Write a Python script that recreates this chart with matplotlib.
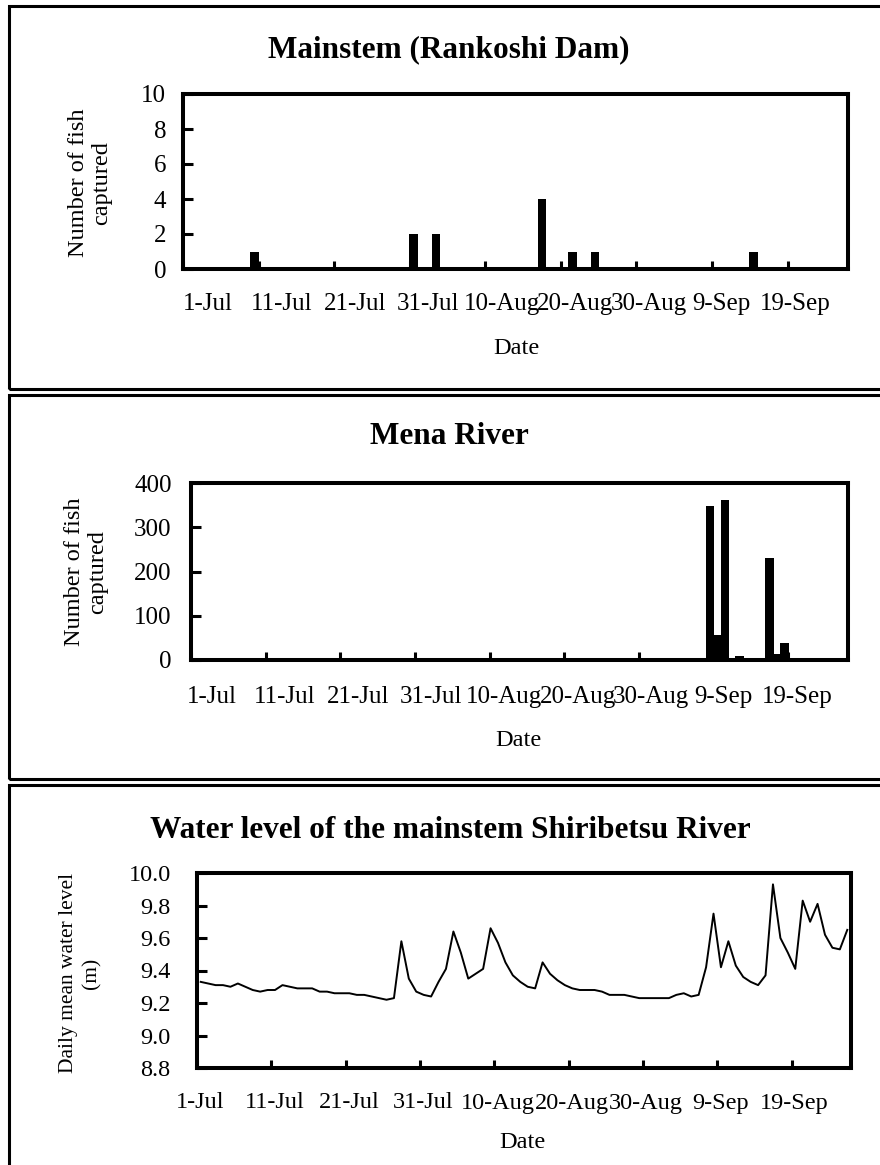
import matplotlib
matplotlib.use("Agg")
import matplotlib.pyplot as plt
from matplotlib.patches import Rectangle
import numpy as np

plt.rcParams['font.family'] = ['Liberation Serif', 'DejaVu Serif']

# ---------------- data ----------------
tick_labels = ['1-Jul', '11-Jul', '21-Jul', '31-Jul', '10-Aug', '20-Aug',
               '30-Aug', '9-Sep', '19-Sep']
n_days = 88  # 1-Jul .. 26-Sep (day index 0 = 1-Jul)

mainstem_days = [9, 30, 33, 47, 51, 54, 75]
mainstem_counts = [1, 2, 2, 4, 1, 1, 1]

mena_days = [68, 69, 70, 71, 72, 73, 74, 75, 76, 77, 78, 79]
mena_counts = [4, 347, 56, 362, 2, 8, 2, 2, 2, 230, 13, 39]

water_level = [
    9.33, 9.32, 9.31, 9.31, 9.30, 9.32, 9.30, 9.28, 9.27, 9.28,
    9.28, 9.31, 9.30, 9.29, 9.29, 9.29, 9.27, 9.27, 9.26, 9.26,
    9.26, 9.25, 9.25, 9.24, 9.23, 9.22, 9.23, 9.58, 9.35, 9.27,
    9.25, 9.24, 9.33, 9.41, 9.64, 9.51, 9.35, 9.38, 9.41, 9.66,
    9.57, 9.45, 9.37, 9.33, 9.30, 9.29, 9.45, 9.38, 9.34, 9.31,
    9.29, 9.28, 9.28, 9.28, 9.27, 9.25, 9.25, 9.25, 9.24, 9.23,
    9.23, 9.23, 9.23, 9.23, 9.25, 9.26, 9.24, 9.25, 9.42, 9.75,
    9.42, 9.58, 9.43, 9.36, 9.33, 9.31, 9.37, 9.93, 9.60, 9.51,
    9.41, 9.83, 9.70, 9.81, 9.62, 9.54, 9.53, 9.65,
]

# ---------------- figure ----------------
W, H = 880, 1165
fig = plt.figure(figsize=(W / 100, H / 100), dpi=100)


def fx(x):
    return x / W


def fy(y):
    return 1 - y / H


def make_axes(left, right, top, bottom):
    return fig.add_axes([fx(left), fy(bottom), (right - left) / W, (bottom - top) / H])


# panel frames
frame_lw = 2.2
for (y0, y1) in [(6.5, 388.5), (395, 779), (785, 1175)]:
    fig.add_artist(Rectangle((fx(8.5), fy(y1)), (900 - 8.5) / W, (y1 - y0) / H,
                             transform=fig.transFigure, fill=False,
                             edgecolor='black', linewidth=frame_lw,
                             clip_on=False))

tick_pos = np.arange(0, 81, 10)
day_centers = np.arange(n_days) + 0.5


def style_axes(ax, ypad, tick_fs):
    for s in ax.spines.values():
        s.set_linewidth(2.9)
    ax.set_xlim(0, n_days)
    ax.set_xticks(tick_pos)
    ax.set_xticklabels([])
    ax.tick_params(axis='x', direction='in', length=6, width=2.2, top=False)
    ax.tick_params(axis='y', direction='in', length=7, width=2.2, pad=ypad,
                   labelsize=tick_fs, right=False)


def date_labels(first_x, step, y, fs):
    # category labels, placed the way the original chart lays them out
    for k, lab in enumerate(tick_labels):
        fig.text(fx(first_x + k * step), fy(y), lab, ha='center', va='center',
                 fontsize=fs)


# ---- Panel 1: Mainstem ----
ax1 = make_axes(183, 848, 94, 269)
ax1.bar(np.array(mainstem_days) + 0.5, mainstem_counts, width=1.15,
        color='black', zorder=2)
ax1.set_ylim(0, 10)
ax1.set_yticks([0, 2, 4, 6, 8, 10])
style_axes(ax1, ypad=12, tick_fs=18)
date_labels(208, 73.4, 304, 18)
fig.text(fx(449), fy(50), 'Mainstem (Rankoshi Dam)', ha='center', va='center',
         fontsize=22.5, fontweight='bold')
fig.text(fx(516), fy(349), 'Date', ha='center', va='center', fontsize=17.5)
fig.text(fx(90), fy(183), 'Number of fish\ncaptured', ha='center', va='center',
         rotation=90, fontsize=17.5, linespacing=1.1)

# ---- Panel 2: Mena River ----
ax2 = make_axes(191, 848, 483, 660)
ax2.bar(np.array(mena_days) + 0.5, mena_counts, width=1.15,
        color='black', zorder=2)
ax2.set_ylim(0, 400)
ax2.set_yticks([0, 100, 200, 300, 400])
style_axes(ax2, ypad=14, tick_fs=18)
date_labels(212, 73.1, 697, 18)
fig.text(fx(449), fy(437), 'Mena River', ha='center', va='center',
         fontsize=22.5, fontweight='bold')
fig.text(fx(518), fy(740), 'Date', ha='center', va='center', fontsize=17.5)
fig.text(fx(86), fy(572), 'Number of fish\ncaptured', ha='center', va='center',
         rotation=90, fontsize=17.5, linespacing=1.1)

# ---- Panel 3: Water level ----
ax3 = make_axes(197, 851, 873, 1068)
ax3.plot(day_centers, water_level, color='black', linewidth=1.4, zorder=2)
ax3.set_ylim(8.8, 10.0)
yt3 = np.round(np.arange(8.8, 10.01, 0.2), 1)
ax3.set_yticks(yt3)
ax3.set_yticklabels([f'{v:.1f}' for v in yt3])
style_axes(ax3, ypad=19, tick_fs=17.5)
date_labels(200.5, 74.25, 1103, 17.5)
fig.text(fx(450), fy(830), 'Water level of the mainstem Shiribetsu River',
         ha='center', va='center', fontsize=22.5, fontweight='bold')
fig.text(fx(522), fy(1142), 'Date', ha='center', va='center', fontsize=17.5)
fig.text(fx(80), fy(973), 'Daily mean water level\n(m)', ha='center',
         va='center', rotation=90, fontsize=15.5, linespacing=1.3)

fig.savefig('out.png', dpi=100)
